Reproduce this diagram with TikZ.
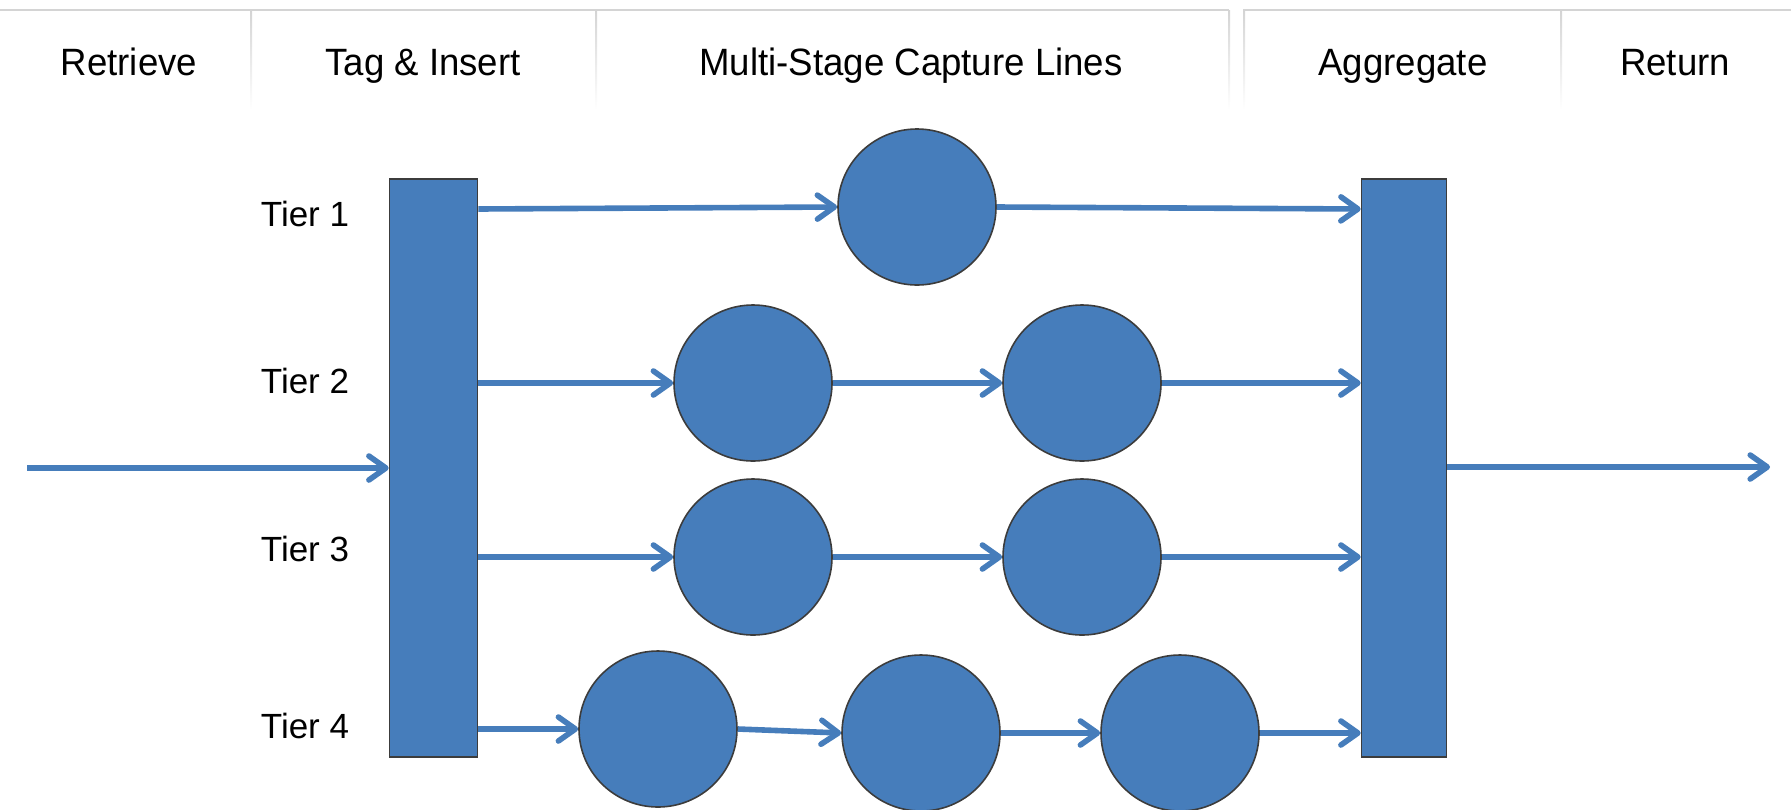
\documentclass[tikz,border=0pt]{standalone}
\usepackage{fontspec}
\setmainfont{Liberation Sans}
\usetikzlibrary{arrows.meta,shapes.geometric}
\definecolor{boxblue}{RGB}{70,125,187}
\definecolor{edgegray}{RGB}{60,60,60}
\definecolor{rulegray}{RGB}{212,212,212}
\begin{document}
\begin{tikzpicture}[x=0.5pt,y=-0.5pt,
  stage/.style={ellipse, draw=edgegray, line width=0.8pt, fill=boxblue,
    minimum width=79pt, minimum height=78pt, inner sep=0pt},
  bar/.style={rectangle, draw=edgegray, line width=0.8pt, fill=boxblue,
    minimum height=289pt, inner sep=0pt},
  flow/.style={draw=boxblue, line width=2.8pt,
    -{Straight Barb[length=8.5pt,width=12pt,round]}},
  head/.style={font=\fontsize{18.3}{22}\selectfont, inner sep=0pt,
    anchor=base, yscale=1.04},
  tier/.style={font=\fontsize{17.5}{21}\selectfont, inner sep=0pt,
    anchor=base},
  divider/.style={top color=rulegray, bottom color=white}]
\useasboundingbox (0,0) rectangle (1791,809);

% header rows
\draw[rulegray, line width=0.8pt] (0,10) -- (1229,10);
\draw[rulegray, line width=0.8pt] (1243,10) -- (1791,10);
\foreach \xd in {250,595,1228,1243,1560}
  \shade[divider] (\xd,10) rectangle ++(2,100);

\node[head] (hRetrieve) at (129,75) {Retrieve};
\node[head] (hTag) at (423,75) {Tag \& Insert};
\node[head] (hCapture) at (911,75) {Multi-Stage Capture Lines};
\node[head] (hAggregate) at (1403,75) {Aggregate};
\node[head] (hReturn) at (1675,75) {Return};

% tier labels
\node[tier] (lab1) at (305,226) {Tier 1};
\node[tier] (lab2) at (305,393) {Tier 2};
\node[tier] (lab3) at (305,561) {Tier 3};
\node[tier] (lab4) at (305,738) {Tier 4};

% distribution and aggregation bars
\node[bar, minimum width=44pt] (L) at (433.5,468) {};
\node[bar, minimum width=42.5pt] (R) at (1404,468) {};

% capture stages
\node[stage] (T1) at (917,207) {};
\node[stage] (T2a) at (753,383) {};
\node[stage] (T2b) at (1082,383) {};
\node[stage] (T3a) at (753,557) {};
\node[stage] (T3b) at (1082,557) {};
\node[stage] (T4a) at (658,729) {};
\node[stage] (T4b) at (921,733) {};
\node[stage] (T4c) at (1180,733) {};

\coordinate (inStart) at (27,468);
\coordinate (outEnd) at (1770,467);

% input and output
\draw[flow] (inStart) -- (L.west |- inStart);
\draw[flow] (R.east |- outEnd) -- (outEnd);

% tier 1
\draw[flow] (L.east |- 0,209) -- (T1.west);
\draw[flow] (T1.east) -- (R.west |- 0,209);
% tier 2
\draw[flow] (L.east |- T2a) -- (T2a.west);
\draw[flow] (T2a.east) -- (T2b.west);
\draw[flow] (T2b.east) -- (R.west |- T2b);
% tier 3
\draw[flow] (L.east |- T3a) -- (T3a.west);
\draw[flow] (T3a.east) -- (T3b.west);
\draw[flow] (T3b.east) -- (R.west |- T3b);
% tier 4
\draw[flow] (L.east |- T4a) -- (T4a.west);
\draw[flow] (T4a.east) -- (T4b.west);
\draw[flow] (T4b.east) -- (T4c.west);
\draw[flow] (T4c.east) -- (R.west |- T4c);
\end{tikzpicture}
\end{document}
